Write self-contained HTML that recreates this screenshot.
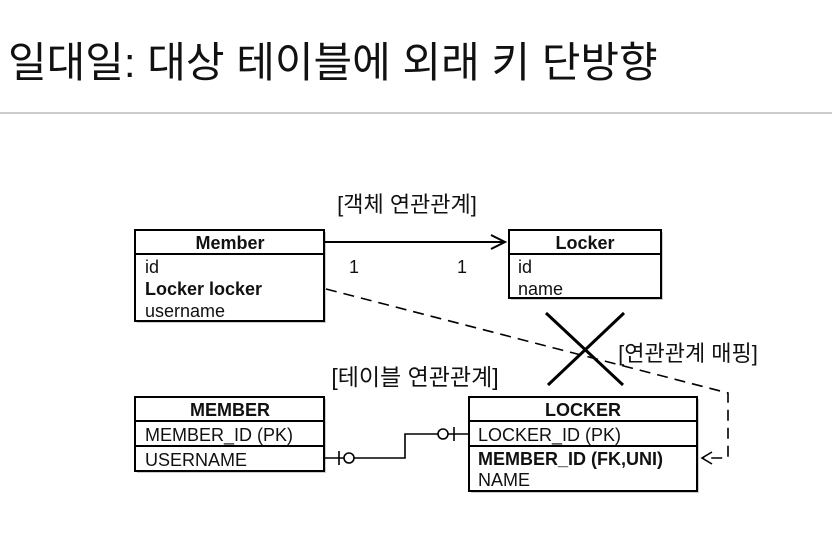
<!DOCTYPE html>
<html><head><meta charset="utf-8"><style>
body{margin:0;background:#fff;width:832px;height:553px;overflow:hidden}
text{font-family:"Liberation Sans","Noto Sans CJK KR",sans-serif}
</style></head><body>
<svg width="832" height="553" viewBox="0 0 832 553" xmlns="http://www.w3.org/2000/svg">
<text x="8" y="77" font-size="42" fill="#111">일대일: 대상 테이블에 외래 키 단방향</text>
<line x1="0" y1="113" x2="832" y2="113" stroke="#bbb" stroke-width="1.5"/>
<text x="407" y="212" font-size="22" text-anchor="middle" fill="#111">[객체 연관관계]</text>
<text x="415" y="385" font-size="23" text-anchor="middle" fill="#111">[테이블 연관관계]</text>
<text x="688" y="361" font-size="22" text-anchor="middle" fill="#111">[연관관계 매핑]</text>
<g fill="#111" font-size="18">
<rect x="137" y="232" width="189" height="91" fill="#ccc"/>
<rect x="135" y="230" width="189" height="91" fill="#fff" stroke="#000" stroke-width="2"/>
<line x1="135" y1="254" x2="324" y2="254" stroke="#000" stroke-width="2"/>
<text x="230" y="249" text-anchor="middle" font-weight="bold">Member</text>
<text x="145" y="273">id</text>
<text x="145" y="295" font-weight="bold">Locker locker</text>
<text x="145" y="317">username</text>
<rect x="511" y="232" width="152" height="68" fill="#ccc"/>
<rect x="509" y="230" width="152" height="68" fill="#fff" stroke="#000" stroke-width="2"/>
<line x1="509" y1="254" x2="661" y2="254" stroke="#000" stroke-width="2"/>
<text x="585" y="249" text-anchor="middle" font-weight="bold">Locker</text>
<text x="518" y="273">id</text>
<text x="518" y="295">name</text>
<text x="349" y="273">1</text>
<text x="457" y="273">1</text>
<rect x="137" y="399" width="189" height="74" fill="#ccc"/>
<rect x="135" y="397" width="189" height="74" fill="#fff" stroke="#000" stroke-width="2"/>
<line x1="135" y1="421" x2="324" y2="421" stroke="#000" stroke-width="2"/>
<line x1="135" y1="446" x2="324" y2="446" stroke="#000" stroke-width="2"/>
<text x="230" y="416" text-anchor="middle" font-weight="bold">MEMBER</text>
<text x="145" y="441">MEMBER_ID (PK)</text>
<text x="145" y="466">USERNAME</text>
<rect x="471" y="399" width="228" height="94" fill="#ccc"/>
<rect x="469" y="397" width="228" height="94" fill="#fff" stroke="#000" stroke-width="2"/>
<line x1="469" y1="421" x2="697" y2="421" stroke="#000" stroke-width="2"/>
<line x1="469" y1="446" x2="697" y2="446" stroke="#000" stroke-width="2"/>
<text x="583" y="416" text-anchor="middle" font-weight="bold">LOCKER</text>
<text x="478" y="441">LOCKER_ID (PK)</text>
<text x="478" y="465" font-weight="bold">MEMBER_ID (FK,UNI)</text>
<text x="478" y="486">NAME</text>
</g>
<line x1="324" y1="242" x2="505" y2="242" stroke="#000" stroke-width="2"/>
<polyline points="491,235 505,242 491,249" fill="none" stroke="#000" stroke-width="2"/>
<polyline points="326,289 728,393 728,458 702,458" fill="none" stroke="#000" stroke-width="1.6" stroke-dasharray="11,7"/>
<polyline points="712,452 702,458 712,464" fill="none" stroke="#000" stroke-width="1.6"/>
<line x1="546" y1="313" x2="623" y2="385" stroke="#000" stroke-width="3"/>
<line x1="624" y1="313" x2="548" y2="385" stroke="#000" stroke-width="3"/>
<polyline points="324,458 405,458 405,434 469,434" fill="none" stroke="#000" stroke-width="1.6"/>
<line x1="339" y1="451" x2="339" y2="465" stroke="#000" stroke-width="1.6"/>
<circle cx="349" cy="458" r="5" fill="#fff" stroke="#000" stroke-width="1.6"/>
<circle cx="443" cy="434" r="5" fill="#fff" stroke="#000" stroke-width="1.6"/>
<line x1="454" y1="427" x2="454" y2="441" stroke="#000" stroke-width="1.6"/>
</svg>
</body></html>
